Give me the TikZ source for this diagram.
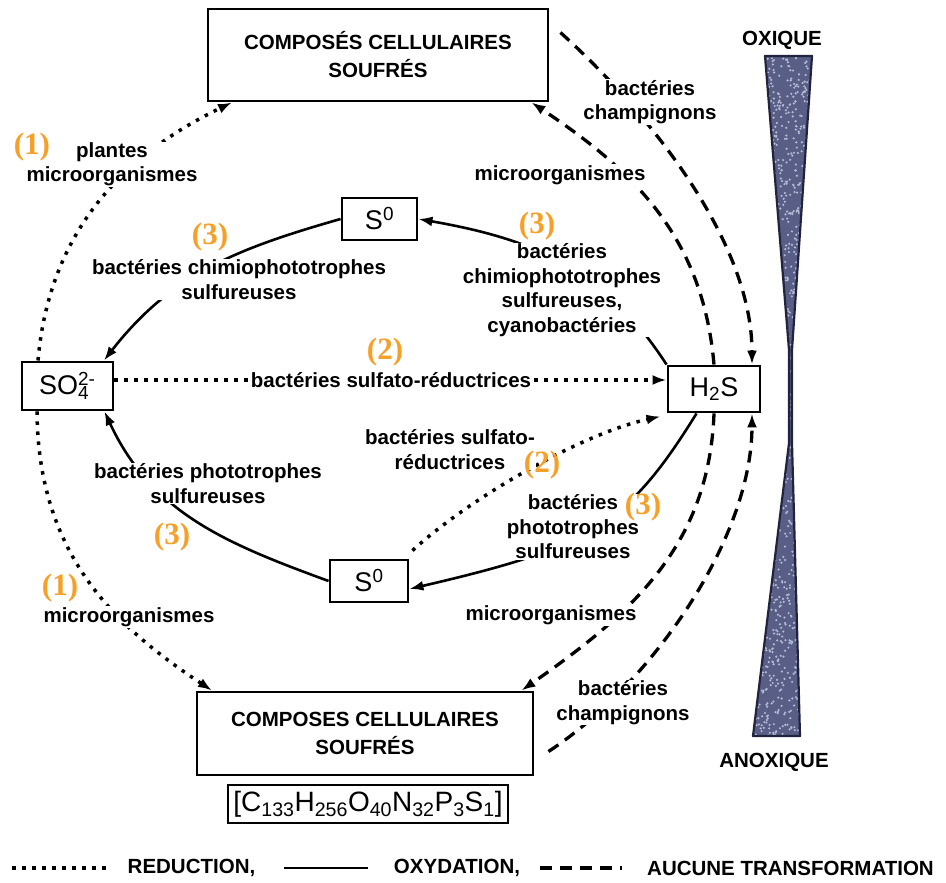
\documentclass[tikz,border=0pt]{standalone}
\usepackage{fontspec}
\setmainfont{Liberation Sans}
\newfontfamily\numfont{Liberation Serif}
\usetikzlibrary{arrows.meta}
\definecolor{numorange}{RGB}{247,160,40}
\definecolor{wedgefill}{RGB}{88,94,134}
\definecolor{wedgeline}{RGB}{34,36,62}
\definecolor{speck}{RGB}{180,187,212}
\tikzset{
  box/.style={draw, line width=2.9pt, inner sep=0pt},
  chem/.style={font=\fontsize{27}{30}\selectfont},
  boxtext/.style={font=\fontsize{20.5}{28}\selectfont\bfseries, align=center},
  lbl/.style={font=\fontsize{20.5}{24.5}\selectfont\bfseries, align=center, fill=white, inner sep=1pt},
  legend/.style={font=\fontsize{20.5}{24.5}\selectfont\bfseries, inner sep=0pt},
  num/.style={font=\numfont\bfseries\fontsize{31}{31}\selectfont, text=numorange, inner sep=0pt},
  tip/.style={-{Latex[length=14pt,width=10pt]}},
  reduc/.style={line width=3.5pt, dash pattern=on 3.5pt off 6.5pt},
  oxyd/.style={line width=2.6pt},
  neutre/.style={line width=3.3pt, dash pattern=on 12pt off 8pt},
}
\begin{document}
\begin{tikzpicture}[x=1pt,y=1pt]
  \useasboundingbox (0,0) rectangle (946,883);
  % boxes
  \node[box, boxtext, minimum width=340pt, minimum height=92pt] (top) at (378,828) {COMPOSÉS CELLULAIRES\\SOUFRÉS};
  \node[box, boxtext, minimum width=336pt, minimum height=83pt] (bottom) at (365,149.5) {COMPOSES CELLULAIRES\\SOUFRÉS};
  \node[box, font=\fontsize{28}{30}\selectfont, minimum width=280pt, minimum height=38pt] (formula) at (368,79)
    {[C\textsubscript{133}H\textsubscript{256}O\textsubscript{40}N\textsubscript{32}P\textsubscript{3}S\textsubscript{1}]};
  \node[box, chem, minimum width=91pt, minimum height=48pt] (so4) at (67.5,497)
    {SO\makebox[0pt][l]{\textsuperscript{2-}}\textsubscript{4}\phantom{\textsuperscript{-}}};
  \node[box, chem, minimum width=92pt, minimum height=46pt] (h2s) at (714,494) {H\textsubscript{2}S};
  \node[box, chem, minimum width=75pt, minimum height=42pt] (sza) at (379.5,664) {S\textsuperscript{0}};
  \node[box, chem, minimum width=78pt, minimum height=42pt] (szb) at (369,302) {S\textsuperscript{0}};

  % reduction
  \draw[reduc, tip] ([xshift=-29.5pt]so4.north) .. controls +(12,139) and +(-97,-47) .. ([xshift=-146pt]top.south);
  \draw[reduc, tip] ([xshift=-30.5pt]so4.south) .. controls +(1,-143) and +(-97,64) .. ([xshift=-153pt]bottom.north);
  \draw[reduc, tip] ([yshift=6pt]so4.east) -- ([yshift=9pt]h2s.west);
  \draw[reduc, tip] ([shift={(3pt,8pt)}]szb.north east) .. controls +(59,54) and +(-78,-17) .. ([shift={(-6pt,-3pt)}]h2s.south west);

  % oxydation
  \draw[oxyd, tip] (h2s.north west) .. controls +(-63,97) and +(114,-20) .. (sza.east);
  \draw[oxyd, tip] (sza.west) .. controls +(-105,-30) and +(67,86) .. ([xshift=-10.5pt]so4.north east);
  \draw[oxyd, tip] ([xshift=30pt]h2s.south west) .. controls +(-70,-113) and +(180,42) .. ([yshift=-8pt]szb.east);
  \draw[oxyd, tip] (szb.west) .. controls +(-104,38) and +(47,-101) .. ([xshift=-10pt]so4.south east);

  % aucune transformation
  \draw[neutre, tip] ([shift={(11pt,-25pt)}]top.north east) .. controls +(80,-72) and +(0,128) .. ([xshift=38pt]h2s.north);
  \draw[neutre, tip] (h2s.north) .. controls +(-11,126) and +(104,-69) .. ([xshift=-18pt]top.south east);
  \draw[neutre, tip] (h2s.south) .. controls +(-5,-133) and +(109,76) .. ([xshift=-13pt]bottom.north east);
  \draw[neutre, tip] ([shift={(14pt,-18pt)}]bottom.east) .. controls +(104,68) and +(0,-124) .. ([xshift=38pt]h2s.south);

  % labels
  \node[lbl] (plantes) at (112,718.5) {plantes\\microorganismes};
  \node[lbl] (microb) at (129,266) {microorganismes};
  \node[lbl] (sulfa) at (391,503) {bactéries sulfato-réductrices};
  \node[lbl] (sulfb) at (450,433.5) {bactéries sulfato-\\réductrices};
  \node[lbl] (chimio) at (562,593) {bactéries\\chimiophototrophes\\sulfureuses,\\cyanobactéries};
  \node[lbl] (chimiob) at (239,603.5) {bactéries chimiophototrophes\\sulfureuses};
  \node[lbl] (photo) at (573,356) {bactéries\\phototrophes\\sulfureuses};
  \node[lbl] (photob) at (208,399.5) {bactéries phototrophes\\sulfureuses};
  \node[lbl] (microh) at (560,708) {microorganismes};
  \node[lbl] (champh) at (650,781) {bactéries\\champignons};
  \node[lbl] (microl) at (551,268) {microorganismes};
  \node[lbl] (champl) at (623,180.5) {bactéries\\champignons};
  \node[num] (n1a) at (32,736) {(1)};
  \node[num] (n1b) at (60,295) {(1)};
  \node[num] (n2a) at (385,531) {(2)};
  \node[num] (n2b) at (542,418) {(2)};
  \node[num] (n3a) at (537,657) {(3)};
  \node[num] (n3b) at (210,646) {(3)};
  \node[num] (n3c) at (643,376) {(3)};
  \node[num] (n3d) at (172,346) {(3)};

  % gradient oxique / anoxique
  \path[fill=wedgefill] (765,827) -- (812,827) -- (792,533) -- (792,440) -- (800,147)
    -- (753,147) -- (789,440) -- (789,533) -- cycle;
  \begin{scope}
    \clip (765,827) -- (812,827) -- (792,533) -- (792,440) -- (800,147)
      -- (753,147) -- (789,440) -- (789,533) -- cycle;
    \pgfmathsetseed{7}
    \foreach \k in {1,...,1400}
      \fill[speck] ({750+65*rnd},{145+685*rnd}) circle (1.2pt);
  \end{scope}
  \draw[wedgeline, line width=2.2pt, line join=round] (765,827) -- (812,827) -- (792,533) -- (792,440) -- (800,147)
    -- (753,147) -- (789,440) -- (789,533) -- cycle;
  \node[legend] (oxique) at (782,843) {OXIQUE};
  \node[legend] (anoxique) at (774,121) {ANOXIQUE};

  % legende
  \coordinate (ra) at (12,15);
  \coordinate (rb) at (106,15);
  \draw[reduc] (ra) -- (rb);
  \node[legend] (rtxt) at (191.5,15) {REDUCTION,};
  \coordinate (oa) at (284,15);
  \coordinate (ob) at (368,15);
  \draw[oxyd] (oa) -- (ob);
  \node[legend] (otxt) at (457,15) {OXYDATION,};
  \coordinate (na) at (540,15);
  \coordinate (nb) at (622,15);
  \draw[neutre] (na) -- (nb);
  \node[legend] (ntxt) at (790.5,15) {AUCUNE TRANSFORMATION};
\end{tikzpicture}
\end{document}
